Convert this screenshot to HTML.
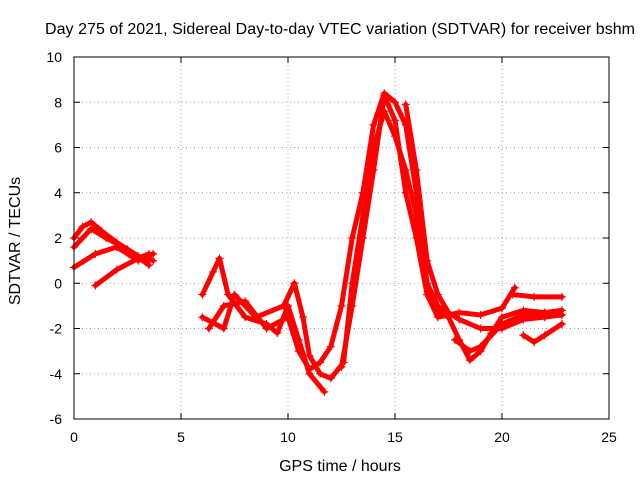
<!DOCTYPE html>
<html><head><meta charset="utf-8"><style>
body{margin:0;background:#fff;font-family:"Liberation Sans",sans-serif}
svg text{font-family:"Liberation Sans",sans-serif;font-size:14px;fill:#000}
svg text.big{font-size:16px}
</style></head><body>
<svg id="c" width="640" height="480">
<text class="big" x="340" y="34" text-anchor="middle" textLength="590">Day 275 of 2021, Sidereal Day-to-day VTEC variation (SDTVAR) for receiver bshm</text>
<text class="big" x="340" y="471" text-anchor="middle">GPS time / hours</text>
<text class="big" transform="translate(20,241) rotate(-90)" text-anchor="middle">SDTVAR / TECUs</text>
<g id="grid"></g><g id="ticks"></g><g id="marks"></g>
<rect x="74" y="57" width="535" height="362" fill="none" stroke="#000"/>
</svg>
<script>
const xTicks=[0,5,10,15,20,25];
const yTicks=[-6,-4,-2,0,2,4,6,8,10];
const trackA=[[0,2.0],[0.4,2.5],[0.8,2.7],[1.3,2.3],[2,1.8],[3,1.2],[3.7,1.0]];
const trackB=[[0,1.6],[0.8,2.4],[1.5,2.0],[2.5,1.5],[3.5,0.8]];
const trackC=[[0,0.7],[1,1.3],[2,1.6],[3,1.0],[3.7,1.3]];
const trackD=[[1,-0.1],[2,0.6],[3,1.1],[3.5,1.3]];
const trackE=[[6,-0.5],[6.5,0.5],[6.8,1.1],[7.2,-0.5],[8,-1.5],[9,-1.8],[9.5,-2.2],[10,-1.0],[10.5,-2.5],[11,-4],[11.7,-4.8]];
const trackF=[[6,-1.5],[7,-2.0],[7.5,-0.5],[8.5,-1.5],[9.8,-1.0],[10.3,0],[10.7,-1.5],[11,-3.2],[11.5,-4],[12,-4.2],[12.6,-3.5],[13,0],[13.5,3],[14,6],[14.5,7.6],[15,6.5],[15.5,5],[16,3],[16.5,-0.5],[17,-1.5],[18,-1.3],[19,-1.4],[20,-1.1],[20.6,-0.2]];
const trackG=[[6.3,-2],[7,-1],[8,-0.8],[9,-2],[10,-1.5],[10.5,-3],[11,-3.8],[11.5,-3.5],[12,-2.8],[12.5,-1],[13,2],[13.5,4],[14,7],[14.5,8.4],[15,8],[15.5,7],[16,4],[16.5,0],[17,-1],[17.5,-1.5]];
const trackH=[[12.5,-3.7],[13,-1],[13.5,2],[14,5],[14.5,8.3],[15,7.2],[15.5,4],[16,2],[16.5,-0.5],[17,-1.3],[17.5,-1.5],[18,-2.5],[18.5,-3.4],[19,-3.0],[19.5,-2.2],[20,-1.5],[21,-1.2],[22,-1.3],[22.8,-1.2]];
const trackI=[[15.5,7.9],[16,5],[16.5,1],[17,-0.5],[17.5,-1.3],[18,-1.6],[19,-2],[20,-2],[21,-1.6],[22,-1.5],[22.8,-1.4]];
const trackJ=[[17.8,-2.5],[18.5,-3.0],[19,-2.8],[20,-1.8],[21,-1.4],[22,-1.3],[22.8,-1.4]];
const trackK=[[20.5,-0.5],[21.5,-0.6],[22.8,-0.6]];
const trackL=[[21,-2.3],[21.5,-2.6],[22,-2.3],[22.8,-1.8]];
const tracks=[trackA,trackB,trackC,trackD,trackE,trackF,trackG,trackH,trackI,trackJ,trackK,trackL];
const NS="http://www.w3.org/2000/svg";
const X=v=>74+v*(535/25), Y=v=>419-(v+6)*(362/16);
function mk(t,a,p){const e=document.createElementNS(NS,t);for(const k in a)e.setAttribute(k,a[k]);p.appendChild(e);return e;}
const grid=document.getElementById('grid'),ticks=document.getElementById('ticks'),marks=document.getElementById('marks');
xTicks.forEach(v=>{const x=X(v);
 if(v>0&&v<25){const l=mk('line',{x1:x,x2:x,y1:57,y2:419,stroke:'#a0a0a0','stroke-dasharray':'1,3'},grid);
 
 }
 mk('line',{x1:x,x2:x,y1:419,y2:413,stroke:'#000'},ticks);mk('line',{x1:x,x2:x,y1:57,y2:63,stroke:'#000'},ticks);
 const t=mk('text',{x:x,y:442,'text-anchor':'middle'},ticks);t.textContent=v;
 
 });
yTicks.forEach(v=>{const y=Y(v);
 if(v>-6&&v<10){const l=mk('line',{x1:74,x2:609,y1:y,y2:y,stroke:'#a0a0a0','stroke-dasharray':'1,3'},grid);
 
 }
 mk('line',{x1:74,x2:80,y1:y,y2:y,stroke:'#000'},ticks);mk('line',{x1:609,x2:603,y1:y,y2:y,stroke:'#000'},ticks);
 const t=mk('text',{x:62,y:y+5,'text-anchor':'end'},ticks);t.textContent=v;
 
 });
tracks.forEach((tr,i)=>{
 const p=mk('polyline',{points:tr.map(d=>X(d[0])+','+Y(d[1])).join(' '),fill:'none',stroke:'#f00','stroke-width':5,'stroke-linejoin':'round','stroke-linecap':'round'},marks);
 
 
 tr.forEach(d=>{const x=X(d[0]),y=Y(d[1]);
  mk('path',{d:`M${x-4},${y}h8M${x},${y-4}v8`,stroke:'#f00','stroke-width':1.2},marks);});
});
</script>
</body></html>
